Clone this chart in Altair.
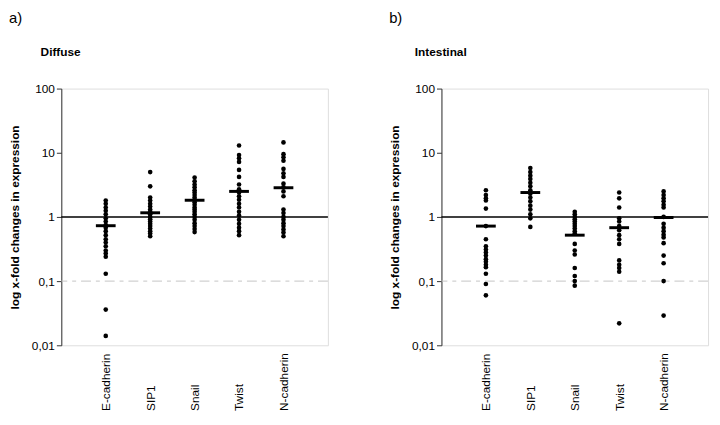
import altair as alt
import pandas as pd

genes = ["E-cadherin", "SIP1", "Snail", "Twist", "N-cadherin"]

# Diffuse (panel a)
diffuse = {
    "E-cadherin": [1.8, 1.6, 1.4, 1.25, 1.1, 0.95, 0.85, 0.75, 0.68, 0.6, 0.52, 0.45, 0.4, 0.35, 0.3, 0.27, 0.24, 0.13, 0.036, 0.014],
    "SIP1": [5.0, 3.0, 2.0, 1.8, 1.6, 1.45, 1.3, 1.2, 1.1, 1.0, 0.92, 0.85, 0.78, 0.72, 0.66, 0.6, 0.55, 0.5],
    "Snail": [4.1, 3.6, 3.2, 2.9, 2.6, 2.4, 2.2, 2.0, 1.85, 1.7, 1.55, 1.4, 1.3, 1.2, 1.1, 1.0, 0.9, 0.8, 0.72, 0.65, 0.58],
    "Twist": [13, 9.2, 8.2, 7.2, 5.4, 4.2, 3.2, 2.7, 2.4, 2.1, 1.85, 1.6, 1.4, 1.2, 1.05, 0.9, 0.78, 0.68, 0.6, 0.52],
    "N-cadherin": [14.5, 9.5, 8.5, 7.5, 5.6, 4.8, 4.2, 3.3, 2.9, 2.5, 2.1, 1.3, 1.15, 1.0, 0.9, 0.8, 0.72, 0.64, 0.57, 0.5],
}
diffuse_mean = [0.73, 1.16, 1.82, 2.5, 2.85]

# Intestinal (panel b)
intestinal = {
    "E-cadherin": [2.6, 2.2, 1.95, 1.8, 1.35, 0.72, 0.45, 0.35, 0.31, 0.28, 0.25, 0.22, 0.2, 0.18, 0.165, 0.13, 0.09, 0.06],
    "SIP1": [5.8, 5.0, 4.4, 3.9, 3.4, 3.0, 2.6, 2.3, 2.0, 1.75, 1.5, 1.3, 1.1, 0.95, 0.7],
    "Snail": [1.2, 1.1, 1.0, 0.92, 0.85, 0.78, 0.72, 0.66, 0.6, 0.55, 0.38, 0.3, 0.26, 0.16, 0.12, 0.1, 0.085],
    "Twist": [2.4, 1.95, 1.4, 0.95, 0.85, 0.72, 0.62, 0.52, 0.45, 0.38, 0.21, 0.18, 0.16, 0.14, 0.022],
    "N-cadherin": [2.5, 2.2, 1.95, 1.75, 1.55, 1.4, 1.0, 0.78, 0.68, 0.6, 0.53, 0.48, 0.39, 0.25, 0.19, 0.1, 0.029],
}
intestinal_mean = [0.72, 2.4, 0.52, 0.68, 0.98]

y_ticks = [0.01, 0.1, 1, 10, 100]
FONT = "Liberation Sans"


def panel(data, means, letter, title, title_dx):
    pts = pd.DataFrame([{"gene": g, "value": v} for g in genes for v in data[g]])
    mn = pd.DataFrame({"gene": genes, "value": means})
    ref = pd.DataFrame({"value": [1, 0.1], "kind": ["solid", "dashed"]})
    yscale = alt.Scale(type="log", domain=[0.01, 100])

    x = alt.X("gene:N", sort=genes, title=None,
              scale=alt.Scale(type="point", padding=1),
              axis=alt.Axis(labelAngle=270, labelAlign="left", labelBaseline="middle",
                            labelPadding=66, ticks=False, domain=False,
                            labelFont=FONT, labelFontSize=12, labelColor="black"))
    y = alt.Y("value:Q", title="log x-fold changes in expression",
              scale=yscale,
              axis=alt.Axis(values=y_ticks, grid=False, tickSize=5, tickColor="#333",
                            domainColor="#333",
                            labelExpr="replace(format(datum.value, ''), '.', ',')",
                            labelFont=FONT, labelFontSize=12, labelColor="black",
                            titleFont=FONT, titleFontSize=12, titleFontWeight="bold",
                            titleColor="black", titlePadding=10))

    solid = alt.Chart(ref[ref.kind == "solid"]).mark_rule(color="black", strokeWidth=1.6).encode(
        y=alt.Y("value:Q", scale=yscale))
    dashed = alt.Chart(ref[ref.kind == "dashed"]).mark_rule(color="#c4c4c4", strokeWidth=1,
                                                             strokeDash=[10, 5, 4, 5]).encode(
        y=alt.Y("value:Q", scale=yscale))
    dots = alt.Chart(pts).mark_circle(color="black", opacity=1, size=22).encode(x=x, y=y)
    bars = alt.Chart(mn).mark_tick(color="black", opacity=1, size=20, thickness=3,
                                   orient="horizontal").encode(
        x=alt.X("gene:N", sort=genes), y=alt.Y("value:Q"))
    lab = alt.Chart(pd.DataFrame({"t": [letter]})).mark_text(
        align="left", baseline="middle", font=FONT, fontSize=15, color="black").encode(
        text="t:N", x=alt.value(-53), y=alt.value(-71))
    ttl = alt.Chart(pd.DataFrame({"t": [title]})).mark_text(
        align="left", baseline="middle", font=FONT, fontSize=12, fontWeight="bold", color="black").encode(
        text="t:N", x=alt.value(title_dx), y=alt.value(-37))
    return alt.layer(dashed, solid, dots, bars, lab, ttl).properties(width=270, height=260)


left = panel(diffuse, diffuse_mean, "a)", "Diffuse", -21)
right = panel(intestinal, intestinal_mean, "b)", "Intestinal", -27)

chart = alt.hconcat(left, right, spacing=59).properties(
    padding={"left": 0, "top": 0, "right": 2, "bottom": 2}
).configure_view(stroke="#333", strokeWidth=1).configure(background="white")

chart.save("out.html", embed_options={"renderer": "svg", "actions": False})
